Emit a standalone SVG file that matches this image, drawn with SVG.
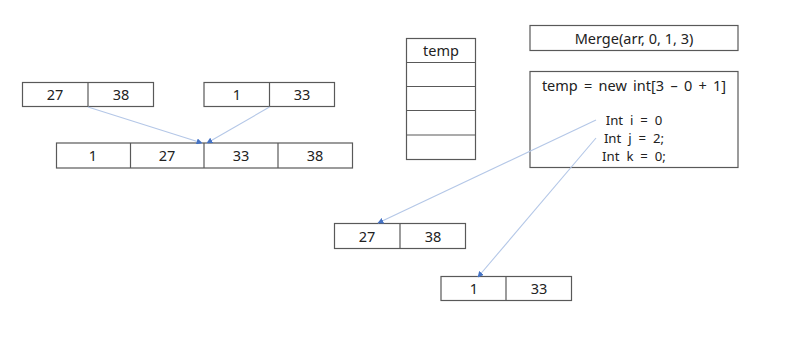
<svg xmlns="http://www.w3.org/2000/svg" width="800" height="350" viewBox="0 0 800 350">
<defs>
<style>
.b{fill:#fff;stroke:#595959;stroke-width:1.2}
.d{stroke:#595959;stroke-width:1.2}
.t{font-family:"Noto Sans","Open Sans",sans-serif;font-size:14.5px;fill:#222;text-anchor:middle}
.w{word-spacing:2.5px}
.s{font-size:13.2px;word-spacing:3.5px}
.c{stroke:#b4c7e7;stroke-width:1.1;fill:none;marker-end:url(#ah)}
</style>
<marker id="ah" viewBox="0 0 10 10" refX="9" refY="5" markerWidth="6" markerHeight="6" markerUnits="userSpaceOnUse" orient="auto">
<path d="M0,0 L10,5 L0,10 z" fill="#4472c4"/>
</marker>
</defs>
<rect width="800" height="350" fill="#fff"/>
<g id="arrA">
<rect class="b" x="22.5" y="82.5" width="131" height="24"/>
<line class="d" x1="88" y1="82.5" x2="88" y2="106.5"/>
<text class="t" x="55" y="100">27</text>
<text class="t" x="121" y="100">38</text>
</g>
<g id="arrB">
<rect class="b" x="204" y="82.5" width="130.5" height="24"/>
<line class="d" x1="269.5" y1="82.5" x2="269.5" y2="106.5"/>
<text class="t" x="237" y="100">1</text>
<text class="t" x="302" y="100">33</text>
</g>
<g id="merged">
<rect class="b" x="56.5" y="143" width="296" height="25"/>
<line class="d" x1="130.5" y1="143" x2="130.5" y2="168"/>
<line class="d" x1="204" y1="143" x2="204" y2="168"/>
<line class="d" x1="278" y1="143" x2="278" y2="168"/>
<text class="t" x="93" y="161">1</text>
<text class="t" x="167" y="161">27</text>
<text class="t" x="241" y="161">33</text>
<text class="t" x="315" y="161">38</text>
</g>
<g id="temp">
<rect class="b" x="406.5" y="38.5" width="69" height="121"/>
<line class="d" x1="406.5" y1="62.5" x2="475.5" y2="62.5"/>
<line class="d" x1="406.5" y1="86.5" x2="475.5" y2="86.5"/>
<line class="d" x1="406.5" y1="110.5" x2="475.5" y2="110.5"/>
<line class="d" x1="406.5" y1="135" x2="475.5" y2="135"/>
<text class="t" x="441" y="55.5">temp</text>
</g>
<g id="mergeTitle">
<rect class="b" x="530" y="25.5" width="208" height="25"/>
<text class="t" x="634" y="43.5">Merge(arr, 0, 1, 3)</text>
</g>
<g id="code">
<rect class="b" x="530" y="71.5" width="208" height="96"/>
<text class="t w" x="634" y="90.5">temp = new int[3 – 0 + 1]</text>
<text class="t s" x="634" y="125">Int i = 0</text>
<text class="t s" x="634" y="143">Int j = 2;</text>
<text class="t s" x="634" y="161">Int k = 0;</text>
</g>
<g id="left">
<rect class="b" x="334.5" y="223.5" width="131" height="25"/>
<line class="d" x1="400" y1="223.5" x2="400" y2="248.5"/>
<text class="t" x="367" y="241.5">27</text>
<text class="t" x="433" y="241.5">38</text>
</g>
<g id="right">
<rect class="b" x="441" y="276.5" width="130.5" height="24"/>
<line class="d" x1="506" y1="276.5" x2="506" y2="300.5"/>
<text class="t" x="474" y="294">1</text>
<text class="t" x="539" y="294">33</text>
</g>
<g id="connectors">
<line class="c" x1="88" y1="107" x2="202" y2="143"/>
<line class="c" x1="269.5" y1="107" x2="207" y2="143"/>
<line class="c" x1="596" y1="120" x2="378" y2="223"/>
<line class="c" x1="596" y1="138" x2="478" y2="277"/>
</g>
</svg>
